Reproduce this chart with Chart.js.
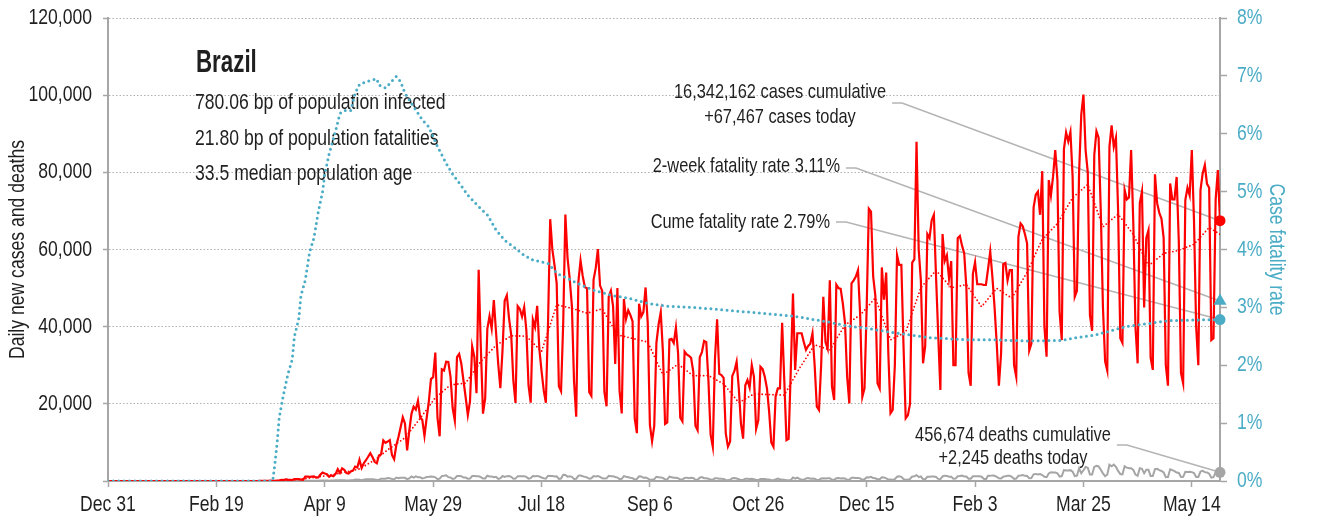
<!DOCTYPE html>
<html>
<head>
<meta charset="utf-8">
<title>Brazil</title>
<script src="https://cdn.jsdelivr.net/npm/chart.js@4.4.1/dist/chart.umd.min.js"></script>
<style>
  html, body { margin: 0; padding: 0; background: #fff; }
  #wrap { width: 1317px; height: 520px; }
</style>
</head>
<body>
<div id="wrap"><canvas id="covidChart" width="1317" height="520"></canvas></div>
<script>
// Days are counted from Dec 31, 2019. Daily rows start on Sunday Feb 23, 2020 (day 54),
// one row per week (Sun..Sat), and end on Thursday May 27, 2021 (day 513).
const firstDay = 54;
const lastDay = 513;

const xTickStep = 50;
const xTickLabels = ['Dec 31', 'Feb 19', 'Apr 9', 'May 29', 'Jul 18', 'Sep 6', 'Oct 26', 'Dec 15', 'Feb 3', 'Mar 25', 'May 14'];

const dailyCases = [
  0, 0, 0, 1, 0, 0, 1,
  0, 0, 0, 0, 1, 4, 6,
  6, 0, 9, 18, 25, 21, 23,
  79, 34, 57, 137, 193, 283, 224,
  418, 345, 310, 232, 482, 502, 487,
  352, 323, 1138, 1119, 1074, 1146, 1222,
  852, 926, 1661, 2210, 1930, 1781, 1089,
  1442, 1261, 1832, 3058, 2105, 3257, 2917,
  2055, 1927, 2498, 2678, 3735, 3503, 5514,
  3379, 4613, 5385, 6276, 7218, 6209, 4970,
  4588, 6633, 6935, 10503, 9888, 10222, 10611,
  6760, 5632, 9258, 11385, 13944, 16500, 14919,
  7938, 13140, 17408, 19251, 18508, 20803, 16508,
  15813, 11687, 16324, 20599, 26417, 26928, 33274,
  16409, 11598, 28936, 28633, 30925, 30830, 27075,
  18912, 15654, 32091, 32913, 30412, 25982, 21704,
  17110, 20647, 34918, 32188, 22765, 54771, 34666,
  17459, 21432, 39436, 42725, 39483, 46860, 38693,
  30476, 24052, 33846, 46712, 48105, 42223, 37923,
  26051, 20229, 45305, 44571, 42619, 45048, 39023,
  24831, 20286, 41857, 39924, 45403, 34177, 28532,
  23529, 20257, 41008, 67860, 59961, 55891, 51147,
  24578, 23284, 40816, 69074, 57837, 52383, 45392,
  25800, 16641, 51603, 57152, 53139, 50230, 49970,
  23010, 22048, 52160, 55155, 60091, 50644, 49274,
  23101, 19373, 47784, 49298, 45323, 30355, 50032,
  23421, 17493, 47134, 42000, 44235, 43000, 41350,
  16158, 12404, 45961, 42659, 43773, 50163, 41000,
  14521, 10273, 14279, 35816, 40557, 43718, 33523,
  14768, 15155, 36653, 36820, 35757, 39797, 33057,
  16389, 15454, 33536, 32817, 32445, 31911, 28378,
  14318, 13155, 32058, 33413, 36303, 36000, 26000,
  12000, 8900, 31500, 41900, 27750, 27444, 26749,
  12345, 8900, 10220, 27235, 28523, 30914, 24062,
  14879, 10982, 24818, 26165, 24200, 30026, 26979,
  13493, 15726, 29600, 29000, 27000, 24000, 18000,
  10000, 8900, 22000, 24000, 24000, 41000, 26000,
  10600, 10900, 29000, 48600, 28800, 38300, 38300,
  38300, 36000, 34000, 35000, 35600, 38300, 30000,
  19250, 18400, 30000, 47750, 36000, 34300, 52000,
  24430, 21000, 50900, 50000, 49800, 46000, 41000,
  27000, 20120, 51210, 52000, 53000, 54660, 43000,
  21825, 24000, 45000, 70570, 69826, 53000, 48000,
  25300, 24000, 55360, 47000, 54000, 33000, 17540,
  18400, 30000, 58550, 56000, 56000, 35000, 16240,
  17000, 20000, 56600, 57500, 87900, 60000, 52000,
  30500, 35000, 64000, 63000, 67600, 69000, 53000,
  38000, 23600, 64000, 57000, 58500, 52500, 57000,
  30000, 30000, 62900, 63500, 61000, 59000, 50000,
  28000, 24700, 53700, 56700, 51000, 51000, 51000,
  50800, 50800, 55000, 59500, 52900, 45000, 35600,
  24700, 33000, 56200, 56500, 52000, 54660, 54660,
  30000, 27000, 63300, 66760, 66000, 64000, 61600,
  33800, 35600, 70860, 74200, 75000, 69000, 80300,
  40000, 32200, 78000, 74000, 79000, 85760, 78000,
  43800, 36500, 86000, 90300, 88000, 90500, 79000,
  47750, 49300, 80000, 95000, 100158, 85760, 80000,
  42980, 38927, 84494, 90638, 89000, 70000, 45000,
  31000, 28600, 86600, 92200, 86600, 89000, 70000,
  37000, 35785, 75400, 73000, 73500, 85760, 67000,
  40000, 30500, 72000, 75000, 45000, 63000, 65000,
  32000, 28800, 79500, 72000, 69500, 68000, 63000,
  30000, 24700, 77100, 73000, 73000, 78800, 62000,
  28000, 25300, 72800, 76000, 74000, 85760, 67600,
  40000, 30000, 75400, 79700, 81870, 77000, 76000,
  36500, 37000, 73000, 80570, 67467
];

const dailyDeaths = [
  0, 0, 0, 0, 0, 0, 0,
  0, 0, 0, 0, 0, 0, 0,
  0, 0, 0, 0, 0, 0, 0,
  0, 0, 1, 3, 3, 4, 7,
  7, 9, 12, 12, 18, 15, 19,
  25, 23, 42, 40, 58, 60, 73,
  54, 67, 114, 133, 141, 115, 68,
  99, 105, 204, 204, 188, 217, 206,
  115, 113, 166, 165, 407, 357, 346,
  189, 338, 474, 449, 435, 428, 421,
  275, 296, 600, 615, 610, 751, 730,
  496, 396, 881, 749, 844, 824, 816,
  485, 674, 1179, 888, 1188, 1001, 965,
  653, 807, 1039, 1086, 1156, 1124, 956,
  480, 623, 1262, 1349, 1473, 1005, 904,
  525, 679, 1272, 1274, 1239, 909, 892,
  612, 627, 1282, 1269, 1238, 1206, 1022,
  641, 654, 1374, 1185, 1141, 990, 1109,
  552, 692, 1280, 1038, 1252, 1290, 1091,
  602, 620, 1254, 1223, 1220, 1214, 1071,
  631, 733, 1300, 1233, 1322, 1163, 921,
  716, 632, 1367, 1284, 1311, 1156, 1211,
  555, 627, 1595, 1554, 1129, 1212, 1088,
  541, 561, 1394, 1437, 1226, 1079, 905,
  572, 703, 1274, 1175, 1262, 1060, 709,
  620, 684, 1352, 1212, 1204, 1054, 892,
  494, 565, 1271, 1085, 988, 855, 758,
  366, 553, 1215, 1184, 834, 874, 682,
  310, 310, 476, 1075, 983, 899, 814,
  415, 381, 1113, 987, 829, 858, 739,
  377, 363, 809, 869, 729, 831, 761,
  335, 317, 863, 1031, 729, 728, 569,
  366, 311, 734, 734, 611, 603, 529,
  269, 201, 309, 716, 754, 630, 461,
  230, 291, 571, 566, 497, 579, 432,
  249, 231, 510, 513, 508, 383, 407,
  190, 179, 389, 610, 444, 327, 346,
  208, 182, 216, 908, 596, 898, 570,
  321, 302, 676, 754, 590, 629, 563,
  273, 302, 630, 691, 638, 691, 709,
  305, 317, 697, 755, 671, 694, 654,
  313, 332, 842, 848, 773, 770, 686,
  279, 433, 964, 936, 1092, 774, 692,
  427, 443, 968, 936, 675, 360, 379,
  316, 475, 1111, 1224, 1074, 461, 314,
  293, 543, 1171, 1242, 1524, 1035, 1171,
  469, 483, 1110, 1131, 1151, 1151, 1050,
  551, 452, 1183, 1382, 1316, 1096, 1098,
  592, 627, 1214, 1283, 1386, 1145, 1143,
  595, 595, 1209, 1209, 1232, 1239, 1096,
  558, 448, 1340, 1330, 1452, 1351, 1091,
  713, 638, 1133, 1233, 1367, 1337, 1104,
  527, 639, 1386, 1428, 1541, 1337, 1275,
  721, 778, 1726, 1840, 1699, 1800, 1555,
  1086, 987, 1972, 2286, 2233, 2216, 1997,
  1127, 1275, 2841, 2736, 2724, 2815, 2438,
  1290, 1383, 3251, 2009, 2777, 3650, 3438,
  1656, 1660, 3668, 3950, 3769, 2922, 1987,
  1240, 1623, 4211, 3829, 4249, 3647, 2616,
  1803, 1738, 3808, 3459, 3305, 3305, 2865,
  1657, 1347, 3321, 3157, 2027, 2914, 2901,
  1305, 1279, 3086, 3163, 2835, 2595, 2202,
  983, 1024, 3025, 2811, 2550, 2202, 2087,
  1024, 1071, 2383, 2311, 2383, 2301, 2087,
  1036, 1050, 2455, 2641, 2301, 2219, 1899,
  860, 983, 2173, 2468, 2245
];

// trailing 7-day mean of new cases, one value per week (the Saturday that closes each row above)
const weeklyAvgCases = [
  0, 2, 15, 144, 397, 911, 1493, 2267, 3130, 5436,
  8483, 11200, 16222, 21577, 24915, 25381, 31009, 35155, 37620, 37549,
  33573, 45665, 44766, 43505, 44626, 37895, 36948, 36017, 27527, 30287,
  27276, 27321, 25178, 20314, 22578, 22403, 22271, 29214, 35314, 33957,
  40447, 42999, 47460, 36600, 38599, 50143, 54586, 50086, 50914, 45157,
  49943, 47389, 54094, 62680, 66709, 73443, 76853, 65863, 69143, 63921,
  55786, 58971, 59800, 61351, 65710
];
const lastAvgCases = 63934;

// cumulative case fatality rate, %
const cfrDays = [
  0, 76, 77, 78, 79, 81, 83, 85, 86, 88, 89, 91, 93, 95, 97, 99, 100, 102, 105, 107,
  109, 112, 114, 116, 119, 122, 124, 125, 128, 130, 133, 135, 137, 141, 145, 148, 152, 156, 159, 163,
  166, 171, 175, 179, 183, 187, 192, 196, 203, 207, 212, 218, 224, 232, 240, 249, 258, 270, 286, 301,
  316, 332, 341, 350, 363, 378, 396, 409, 424, 440, 447, 455, 463, 470, 480, 489, 500, 513
];
const cfrValues = [
  0, 0, 0.3, 0.65, 1.1, 1.5, 1.85, 2.1, 2.5, 2.8, 3.2, 3.47, 3.95, 4.2, 4.65, 5.0, 5.3, 5.65, 6.05, 6.35,
  6.4, 6.4, 6.7, 6.85, 6.9, 6.93, 6.95, 6.84, 6.79, 6.87, 6.99, 6.9, 6.7, 6.47, 6.24, 6.12, 5.78, 5.49, 5.3, 5.1,
  4.94, 4.74, 4.6, 4.34, 4.16, 4.05, 3.9, 3.82, 3.76, 3.59, 3.5, 3.39, 3.3, 3.21, 3.16, 3.07, 3.02, 3.0, 2.95, 2.9,
  2.85, 2.75, 2.68, 2.64, 2.56, 2.48, 2.44, 2.44, 2.42, 2.43, 2.48, 2.52, 2.6, 2.67, 2.72, 2.77, 2.78, 2.79
];

const countryName = 'Brazil';
const infectedBp = 780.06;
const fatalitiesBp = 21.80;
const medianAge = 33.5;

const cumCases = 16342162;
const todayCases = 67467;
const cumDeaths = 456674;
const todayDeaths = 2245;
const twoWeekCfr = 3.11;
const cumeCfr = 2.79;

// no narrow face is installed, so Liberation Sans is squeezed horizontally instead
const SANS = "'Liberation Sans', Arial, sans-serif";
const SQUEEZE = 0.8;
const red = '#ff0000';
const cfrBlue = '#4bacc6';
const deathGray = '#a5a5a5';
const axisGray = '#a6a6a6';
const ink = '#1f1f1f';

const fmt = n => n.toLocaleString('en-US');

function narrowText(ctx, text, x, y, o = {}) {
  const sq = o.squeeze || SQUEEZE;
  ctx.save();
  ctx.translate(x, y);
  if (o.rotate) ctx.rotate(o.rotate);
  ctx.scale(sq, 1);
  ctx.font = (o.bold ? 'bold ' : '') + (o.size || 22) + 'px ' + SANS;
  ctx.fillStyle = o.color || ink;
  ctx.textAlign = o.align || 'left';
  ctx.textBaseline = 'middle';
  ctx.fillText(text, 0, 0);
  const w = ctx.measureText(text).width * sq;
  ctx.restore();
  return w;
}

// nothing was reported before late February, so the lines rest on zero from Dec 31
function dailyPoints(values) {
  const pts = [{ x: 0, y: 0 }];
  values.forEach((v, i) => pts.push({ x: firstDay + i, y: v }));
  return pts;
}

const avgPoints = [{ x: 0, y: 0 }];
weeklyAvgCases.forEach((v, i) => avgPoints.push({ x: firstDay + 6 + 7 * i, y: v }));
avgPoints.push({ x: lastDay, y: lastAvgCases });

const cfrPoints = cfrDays.map((d, i) => ({ x: d, y: cfrValues[i] }));

// country block and callouts with leader lines running to the markers on the last day
const notesPlugin = {
  id: 'notes',
  beforeDatasetsDraw(chart) {
    const { ctx } = chart;
    const { x, y, y2 } = chart.scales;
    const endX = x.getPixelForValue(lastDay);

    narrowText(ctx, countryName, 196, 63, { size: 31, bold: true, squeeze: 0.72 });
    const info = [
      infectedBp.toFixed(2) + ' bp of population infected',
      fatalitiesBp.toFixed(2) + ' bp of population fatalities',
      medianAge.toFixed(1) + ' median population age'
    ];
    info.forEach((t, i) => narrowText(ctx, t, 195, 103 + i * 35.5));

    const callouts = [
      { lines: [fmt(cumCases) + ' cases cumulative', '+' + fmt(todayCases) + ' cases today'],
        cx: 780, top: 92, gap: 25, leadY: 103, target: y.getPixelForValue(todayCases) },
      { lines: ['2-week fatality rate ' + twoWeekCfr.toFixed(2) + '%'],
        right: 840, top: 166, gap: 0, leadY: 168, target: y2.getPixelForValue(twoWeekCfr) },
      { lines: ['Cume fatality rate ' + cumeCfr.toFixed(2) + '%'],
        right: 830, top: 222, gap: 0, leadY: 222, target: y2.getPixelForValue(cumeCfr) },
      { lines: [fmt(cumDeaths) + ' deaths cumulative', '+' + fmt(todayDeaths) + ' deaths today'],
        cx: 1013, top: 435, gap: 23, leadY: 445, target: y.getPixelForValue(todayDeaths) }
    ];

    ctx.save();
    callouts.forEach(c => {
      let textRight = 0;
      c.lines.forEach((t, i) => {
        const align = c.cx !== undefined ? 'center' : 'right';
        const ax = c.cx !== undefined ? c.cx : c.right;
        const w = narrowText(ctx, t, ax, c.top + i * c.gap, { size: 21, align, squeeze: 0.78 });
        if (i === 0) textRight = align === 'center' ? ax + w / 2 : ax;
      });
      const sx = textRight + 6;
      ctx.strokeStyle = '#b4b4b4';
      ctx.lineWidth = 1.6;
      ctx.beginPath();
      ctx.moveTo(sx, c.leadY);
      ctx.lineTo(sx + 10, c.leadY);
      ctx.lineTo(endX, c.target);
      ctx.stroke();
    });
    ctx.restore();
  },
  // tick labels and axis titles, placed from the scales' own ticks
  afterDraw(chart) {
    const { ctx, chartArea } = chart;
    const { x, y, y2 } = chart.scales;
    x.ticks.forEach((t, i) => {
      narrowText(ctx, xTickLabels[i], x.getPixelForValue(t.value), 505, { size: 22, align: 'center' });
    });
    // the case axis leaves its zero unlabelled
    y.ticks.filter(t => t.value > 0).forEach(t => {
      narrowText(ctx, fmt(t.value), y.right - 16, y.getPixelForValue(t.value), { size: 22, align: 'right' });
    });
    y2.ticks.forEach(t => {
      narrowText(ctx, t.value + '%', y2.left + 17, y2.getPixelForValue(t.value), { size: 22, color: cfrBlue });
    });
    const midY = (chartArea.top + chartArea.bottom) / 2;
    narrowText(ctx, 'Daily new cases and deaths', 18, midY, { size: 22, align: 'center', rotate: -Math.PI / 2 });
    narrowText(ctx, 'Case fatality rate', 1276, midY, { size: 22, align: 'center', rotate: Math.PI / 2, color: cfrBlue });
  }
};

new Chart(document.getElementById('covidChart'), {
  type: 'line',
  data: {
    datasets: [
      {
        label: 'Cases today', data: [{ x: lastDay, y: todayCases }], yAxisID: 'y',
        showLine: false, pointRadius: 5.5, pointBackgroundColor: red, pointBorderColor: red,
        pointBorderWidth: 0, clip: false, order: 0
      },
      {
        label: '2-week fatality rate', data: [{ x: lastDay, y: twoWeekCfr }], yAxisID: 'y2',
        showLine: false, pointStyle: 'triangle', pointRadius: 7.5, pointBackgroundColor: cfrBlue,
        pointBorderColor: cfrBlue, pointBorderWidth: 0, clip: false, order: 0
      },
      {
        label: 'Cume fatality rate', data: [{ x: lastDay, y: cumeCfr }], yAxisID: 'y2',
        showLine: false, pointRadius: 5.5, pointBackgroundColor: cfrBlue, pointBorderColor: cfrBlue,
        pointBorderWidth: 0, clip: false, order: 0
      },
      {
        label: 'Deaths today', data: [{ x: lastDay, y: todayDeaths }], yAxisID: 'y',
        showLine: false, pointRadius: 5.5, pointBackgroundColor: deathGray, pointBorderColor: deathGray,
        pointBorderWidth: 0, clip: false, order: 0
      },
      {
        label: 'Case fatality rate', data: cfrPoints, yAxisID: 'y2',
        borderColor: cfrBlue, borderWidth: 3, borderDash: [0, 5.4], borderCapStyle: 'round',
        pointRadius: 0, order: 1
      },
      {
        label: '7-day average', data: avgPoints, yAxisID: 'y',
        borderColor: red, borderWidth: 1.8, borderDash: [0, 3.6], borderCapStyle: 'round',
        pointRadius: 0, order: 2
      },
      {
        label: 'Daily new cases', data: dailyPoints(dailyCases), yAxisID: 'y',
        borderColor: red, borderWidth: 2.2, pointRadius: 0, order: 3
      },
      {
        label: 'Daily deaths', data: dailyPoints(dailyDeaths), yAxisID: 'y',
        borderColor: deathGray, borderWidth: 2, pointRadius: 0, order: 4
      }
    ]
  },
  options: {
    responsive: false,
    animation: false,
    devicePixelRatio: 1,
    events: [],
    layout: { padding: { top: 18, right: 0, bottom: 0, left: 0 } },
    plugins: { legend: { display: false }, tooltip: { enabled: false } },
    elements: { line: { tension: 0 }, point: { radius: 0 } },
    scales: {
      x: {
        type: 'linear', min: 0, max: lastDay,
        afterBuildTicks: axis => { axis.ticks = xTickLabels.map((_, i) => ({ value: i * xTickStep })); },
        afterFit: axis => { axis.height = 39; },
        grid: { drawOnChartArea: false, drawTicks: true, tickLength: 6, tickColor: axisGray, tickWidth: 1.5 },
        border: { color: axisGray, width: 2 },
        ticks: { display: false }
      },
      y: {
        position: 'left', min: 0, max: 120000,
        afterFit: axis => { axis.width = 108; },
        ticks: { stepSize: 20000, display: false },
        grid: { color: '#b0b0b0', lineWidth: 1, tickLength: 5, tickColor: axisGray, tickWidth: 1.5 },
        border: { color: axisGray, width: 2, dash: [1.5, 2] }
      },
      y2: {
        position: 'right', min: 0, max: 8,
        afterFit: axis => { axis.width = 97; },
        ticks: { stepSize: 1, display: false },
        grid: { drawOnChartArea: false, tickLength: 7, tickColor: axisGray, tickWidth: 1.5 },
        border: { color: axisGray, width: 2 }
      }
    }
  },
  plugins: [notesPlugin]
});
</script>
</body>
</html>
